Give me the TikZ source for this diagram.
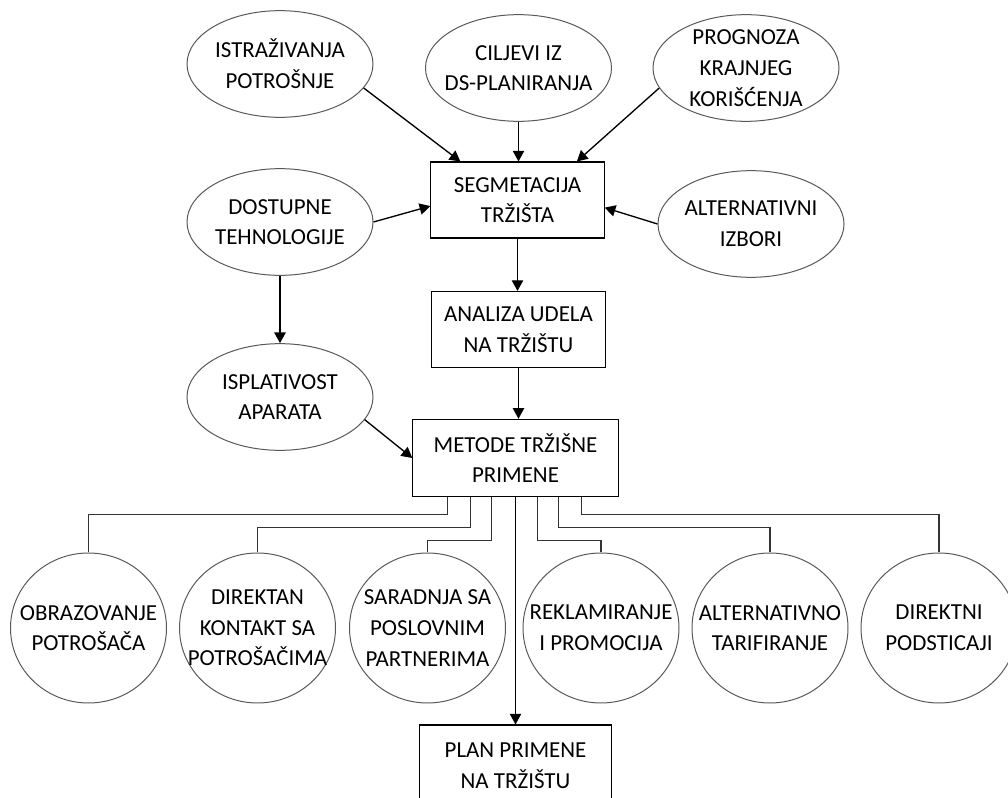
\documentclass[tikz,border=0pt]{standalone}
\usepackage{fontspec}
\setmainfont{Carlito}
\usetikzlibrary{positioning}
\usetikzlibrary{shapes.geometric}
\usetikzlibrary{arrows.meta,calc}
\tikzset{oval/.style={ellipse, draw=black!65, line width=0.75pt, minimum width=139.5pt, minimum height=80pt, inner xsep=-30pt, inner ysep=-15pt, align=center, font=\fontsize{17.2}{23}\selectfont}}
\tikzset{krug/.style={oval, minimum width=117pt, minimum height=112.5pt}}
\tikzset{kutija/.style={rectangle, draw, line width=0.8pt, minimum height=57pt, align=center, font=\fontsize{17.2}{23}\selectfont}}
\tikzset{veza/.style={-{Triangle[length=8pt,width=8.5pt]}, line width=1pt}}
\tikzset{grana/.style={draw=black!80, line width=0.8pt}}

\begin{document}
\begin{tikzpicture}[x=0.75pt,y=-0.75pt]
\useasboundingbox (0,0) rectangle (1008,798);
% gornji red
\node[oval] (istr) at (280,64) {ISTRAŽIVANJA\\POTROŠNJE};
\node[oval] (cilj) at (518.5,68) {CILJEVI IZ\\DS-PLANIRANJA};
\node[oval] (prog) at (746,68) {PROGNOZA\\KRAJNJEG\\KORIŠĆENJA};
\node[kutija, minimum width=130pt] (seg) at (517.5,200) {SEGMETACIJA\\TRŽIŠTA};
\node[oval] (dost) at (280,222) {DOSTUPNE\\TEHNOLOGIJE};
\node[oval] (alter) at (751,224) {ALTERNATIVNI\\IZBORI};
\node[kutija, minimum width=131pt] (anal) at (518.5,329.5) {ANALIZA UDELA\\NA TRŽIŠTU};
\node[oval] (ispl) at (280,397) {ISPLATIVOST\\APARATA};
\node[kutija, minimum width=154pt, minimum height=58pt] (met) at (515.5,458) {METODE TRŽIŠNE\\PRIMENE};
% metode
\node[krug] (obr) at (88.5,628) {OBRAZOVANJE\\POTROŠAČA};
\node[krug] (dir) at (257.5,628) {DIREKTAN\\KONTAKT SA\\POTROŠAČIMA};
\node[krug] (sar) at (427.5,628) {SARADNJA SA\\POSLOVNIM\\PARTNERIMA};
\node[krug] (rek) at (601,628) {REKLAMIRANJE\\I PROMOCIJA};
\node[krug] (tar) at (770,628) {ALTERNATIVNO\\TARIFIRANJE};
\node[krug] (pod) at (939,628) {DIREKTNI\\PODSTICAJI};
\node[kutija, minimum width=144pt, minimum height=61.5pt] (plan) at (515.5,766) {PLAN PRIMENE\\NA TRŽIŠTU};

\draw[veza] (istr.-16) -- (seg.146.5);
\draw[veza] (cilj.south) -- (cilj.south |- seg.north);
\draw[veza] (prog.-167) -- (seg.33.5);
\draw[veza] (dost.east) -- (seg.184.5);
\draw[veza] (alter.west) -- (seg.-5);
\draw[veza] (seg.south) -- (seg.south |- anal.north);
\draw[veza] (dost.south) -- (ispl.north);
\draw[veza] (anal.south) -- (anal.south |- met.north);
\draw[veza] (ispl.-15) -- (met.west);
\draw[veza] (met.south) -- (plan.north);
\foreach \n/\dx/\dy in {obr/-68/17, dir/-45/30, sar/-24/43, rek/22/43, tar/43/30, pod/66/17} {
\draw[grana] ($(met.south)+(\dx,0)$) -- ++(0,\dy) -| (\n.north);
}
\end{tikzpicture}
\end{document}
